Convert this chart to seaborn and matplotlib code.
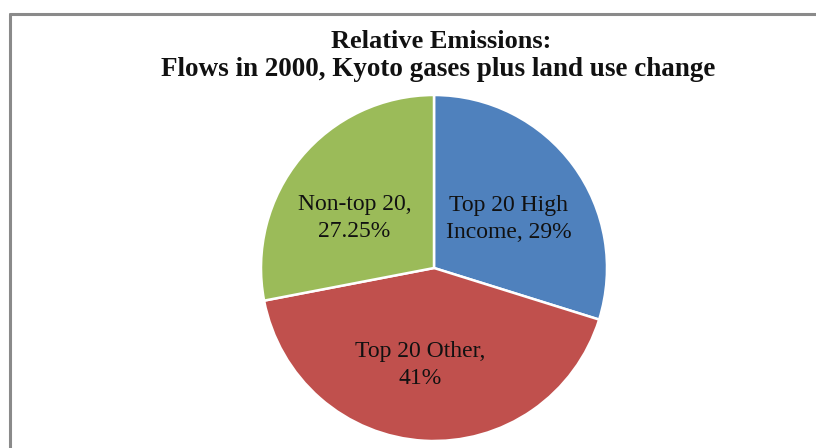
import matplotlib
matplotlib.use("Agg")
import matplotlib.pyplot as plt
from matplotlib.lines import Line2D
import seaborn as sns

# Shares of emissions, 2000 (Kyoto gases plus land use change)
categories = ["Top 20 High\nIncome", "Top 20 Other,", "Non-top 20,"]
shares = [29, 41, 27.25]
label_sep = [", ", "\n", "\n"]
colors = ["#4F81BD", "#C0504D", "#9BBB59"]

title_lines = ["Relative Emissions:", "Flows in 2000, Kyoto gases plus land use change"]

sns.set_theme(style="white")
plt.rcParams["font.family"] = ["Liberation Serif", "DejaVu Serif"]

W, H = 816, 448
fig = plt.figure(figsize=(W / 100, H / 100), dpi=100)
fig.patch.set_facecolor("white")

# pie placed by pixel centre / radius
cx, cy, r = 434, 268, 173
ax = fig.add_axes([(cx - r) / W, (H - cy - r) / H, 2 * r / W, 2 * r / H])

labels = [f"{c}{s}{v:g}%" for c, s, v in zip(categories, label_sep, shares)]
wedges, texts = ax.pie(
    shares,
    labels=labels,
    colors=colors,
    startangle=90,
    counterclock=False,
    labeldistance=0.55,
    wedgeprops=dict(edgecolor="white", linewidth=1.8),
    textprops=dict(fontsize=17, color="#111111", ha="center", va="center",
                   linespacing=1.37),
)
# label anchor points inside each slice
label_pos = [(0.43, 0.285), (-0.08, -0.56), (-0.46, 0.29)]
for t, p in zip(texts, label_pos):
    t.set_position(p)
    t.set_horizontalalignment("center")
    t.set_verticalalignment("center")

ax.set_xlim(-1, 1)
ax.set_ylim(-1, 1)
ax.set_aspect("auto")
ax.axis("off")

# title
fig.text(441 / W, 1 - 41 / H, title_lines[0], ha="center", va="center",
         fontsize=19, fontweight="bold", color="#111111")
fig.text(438 / W, 1 - 70 / H, title_lines[1], ha="center", va="center",
         fontsize=19.5, fontweight="bold", color="#111111")

# chart frame (top and left edges)
frame_c = "#8a8a8a"
fig.add_artist(Line2D([10 / W, 1.0], [1 - 14 / H, 1 - 14 / H],
                      transform=fig.transFigure, color=frame_c, linewidth=2.2))
fig.add_artist(Line2D([10 / W, 10 / W], [0, 1 - 14 / H],
                      transform=fig.transFigure, color=frame_c, linewidth=2.2))

fig.savefig("out.png", dpi=100, facecolor="white")
